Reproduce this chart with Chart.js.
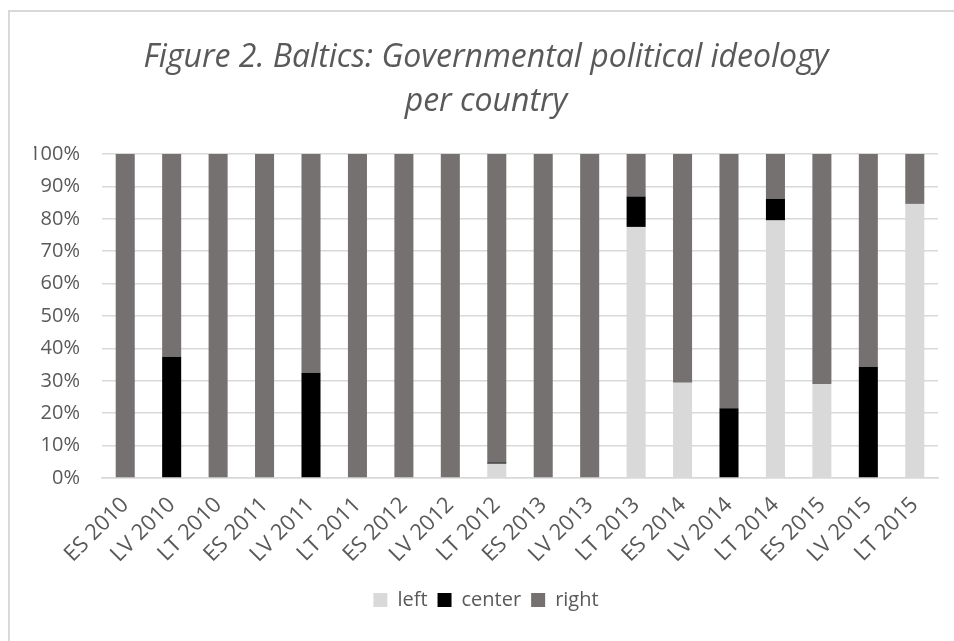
<!DOCTYPE html>
<html>
<head>
<meta charset="utf-8">
<script src="https://cdn.jsdelivr.net/npm/chart.js@4"></script>
<style>
  html, body { margin: 0; padding: 0; background: #fff; }
  #wrap { position: absolute; left: 0; top: 0; width: 954px; height: 641px; }
  #frame { position: absolute; left: 8px; top: 10px; width: 960px; height: 650px;
           border-left: 2px solid #d9d9d9; border-top: 2px solid #d9d9d9; pointer-events: none; }
</style>
</head>
<body>
<div id="wrap"><canvas id="model01" width="954" height="641"></canvas></div>
<div id="frame"></div>
<script>
const categories = ['ES 2010', 'LV 2010', 'LT 2010', 'ES 2011', 'LV 2011', 'LT 2011',
  'ES 2012', 'LV 2012', 'LT 2012', 'ES 2013', 'LV 2013', 'LT 2013',
  'ES 2014', 'LV 2014', 'LT 2014', 'ES 2015', 'LV 2015', 'LT 2015'];
const leftVals   = [0, 0, 0, 0, 0, 0, 0, 0, 4.4, 0, 0, 77.5, 29.4, 0, 79.5, 29.0, 0, 84.6];
const centerVals = [0, 37.4, 0, 0, 32.5, 0, 0, 0, 0.4, 0, 0, 9.4, 0, 21.5, 6.7, 0, 34.3, 0];
const rightVals  = [100, 62.6, 100, 100, 67.5, 100, 100, 100, 95.2, 100, 100, 13.1, 70.6, 78.5, 13.8, 71.0, 65.7, 15.4];

const ctx1 = document.getElementById('model01');
const FONT = "'Open Sans', 'Liberation Sans', sans-serif";
const TXT = '#595959';

new Chart(ctx1, {
  type: 'bar',
  data: {
    labels: categories,
    datasets: [
      { label: 'left', data: leftVals, backgroundColor: '#d9d9d9' },
      { label: 'center', data: centerVals, backgroundColor: '#000000' },
      { label: 'right', data: rightVals, backgroundColor: '#767171' }
    ]
  },
  options: {
    responsive: false,
    animation: false,
    // left padding keeps title/legend centred on the frame, y axis width makes up the rest
    layout: { padding: { left: 34, right: 16, top: 0, bottom: 21 } },
    datasets: { bar: { categoryPercentage: 0.41, barPercentage: 1 } },
    plugins: {
      title: {
        display: true,
        text: ['Figure 2. Baltics: Governmental political ideology', 'per country'],
        color: TXT,
        font: { family: FONT, size: 32, style: 'italic', weight: 'normal', lineHeight: 44 / 32 },
        padding: { top: 36, bottom: 30 }
      },
      legend: {
        position: 'bottom',
        labels: {
          color: TXT,
          font: { family: FONT, size: 20 },
          boxWidth: 14,
          boxHeight: 14,
          padding: 10
        }
      },
      tooltip: { enabled: false }
    },
    scales: {
      x: {
        stacked: true,
        grid: { display: false },
        border: { display: true, color: '#d9d9d9', width: 1.5 },
        ticks: { color: TXT, font: { family: FONT, size: 22 }, minRotation: 45, maxRotation: 45, padding: 6 },
        afterFit: function (scale) { scale.height = 102; }
      },
      y: {
        stacked: true,
        min: 0,
        max: 100,
        grid: { color: '#d9d9d9', lineWidth: 1.5, drawTicks: false },
        border: { display: false },
        ticks: {
          stepSize: 10,
          color: TXT,
          padding: 22,
          font: { family: FONT, size: 20 },
          callback: v => v + '%'
        },
        afterFit: function (scale) { scale.width = 68; }
      }
    }
  }
});
</script>
</body>
</html>
